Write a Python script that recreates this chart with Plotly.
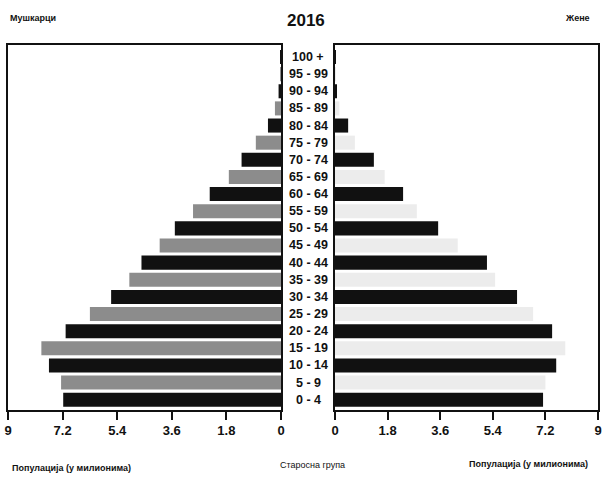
import plotly.graph_objects as go

age_groups = ["0 - 4", "5 - 9", "10 - 14", "15 - 19", "20 - 24", "25 - 29", "30 - 34",
              "35 - 39", "40 - 44", "45 - 49", "50 - 54", "55 - 59", "60 - 64", "65 - 69",
              "70 - 74", "75 - 79", "80 - 84", "85 - 89", "90 - 94", "95 - 99", "100 +"]
male = [7.18, 7.25, 7.65, 7.9, 7.1, 6.3, 5.6, 5.0, 4.6, 4.0, 3.5, 2.9, 2.35, 1.72,
        1.3, 0.83, 0.43, 0.2, 0.08, 0.02, 0.005]
female = [7.12, 7.2, 7.57, 7.88, 7.43, 6.78, 6.23, 5.48, 5.2, 4.2, 3.53, 2.8, 2.33, 1.7,
          1.33, 0.68, 0.45, 0.15, 0.05, 0.02, 0.005]
tick_vals = [0, 1.8, 3.6, 5.4, 7.2, 9]
tick_text = ["0", "1.8", "3.6", "5.4", "7.2", "9"]

W, H = 603, 478
def px(x): return x / W
def py(y): return 1 - y / H

male_colors = ["#111111" if i % 2 == 0 else "#8c8c8c" for i in range(len(age_groups))]
female_colors = ["#111111" if i % 2 == 0 else "#ececec" for i in range(len(age_groups))]

fig = go.Figure()
fig.add_trace(go.Bar(y=age_groups, x=male, orientation="h", xaxis="x", yaxis="y",
                     marker=dict(color=male_colors, line=dict(width=0)), showlegend=False))
fig.add_trace(go.Bar(y=age_groups, x=female, orientation="h", xaxis="x2", yaxis="y2",
                     marker=dict(color=female_colors, line=dict(width=0)), showlegend=False))

font_b = dict(family="Liberation Sans, Arial", size=13, color="#111", weight="bold")
axis_common = dict(tickvals=tick_vals, ticktext=tick_text, ticks="outside", ticklen=8,
                   tickcolor="#111", tickwidth=1.5, showgrid=False, zeroline=False,
                   showline=True, linecolor="#111", linewidth=1.5, mirror=True,
                   tickfont=font_b, automargin=False)
ydom = [py(410), py(45)]
yax_common = dict(domain=ydom, range=[-0.6, 20.7], showticklabels=False, ticks="",
                  showline=True, linecolor="#111", linewidth=1.5, mirror=True,
                  showgrid=False, zeroline=False, automargin=False)
fig.update_layout(
    width=W, height=H, margin=dict(l=0, r=0, t=0, b=0, autoexpand=False),
    paper_bgcolor="white", plot_bgcolor="white", bargap=0.18,
    xaxis=dict(domain=[px(8), px(281)], range=[9, 0], anchor="y", **axis_common),
    xaxis2=dict(domain=[px(335), px(598)], range=[0, 9], anchor="y2", **axis_common),
    yaxis=dict(anchor="x", **yax_common),
    yaxis2=dict(anchor="x2", **yax_common),
)

for g in age_groups:
    fig.add_annotation(x=px(308), y=g, xref="paper", yref="y", text=g, showarrow=False,
                       yanchor="middle",
                       font=dict(family="Liberation Sans, Arial", size=12.5, color="#111", weight="bold"))

small = dict(family="Liberation Sans, Arial", size=9, color="#111", weight="bold")
def label(x, y, text, xanchor, font):
    fig.add_annotation(x=px(x), y=py(y), xref="paper", yref="paper", text=text, showarrow=False,
                       xanchor=xanchor, yanchor="middle", font=font)

label(306, 20, "2016", "center",
      dict(family="Liberation Sans, Arial", size=17, color="#111", weight="bold"))
label(8, 18, "Мушкарци", "left", small)
label(592, 18, "Жене", "right", small)
label(10, 468, "Популација (у милионима)", "left", small)
label(312, 465, "Старосна група", "center",
      dict(family="Liberation Sans, Arial", size=9, color="#111"))
label(590, 464, "Популација (у милионима)", "right", small)

fig.write_html("out.html", config={"displayModeBar": False},
               post_script="document.body.style.margin='0px';document.body.style.overflow='hidden';")
